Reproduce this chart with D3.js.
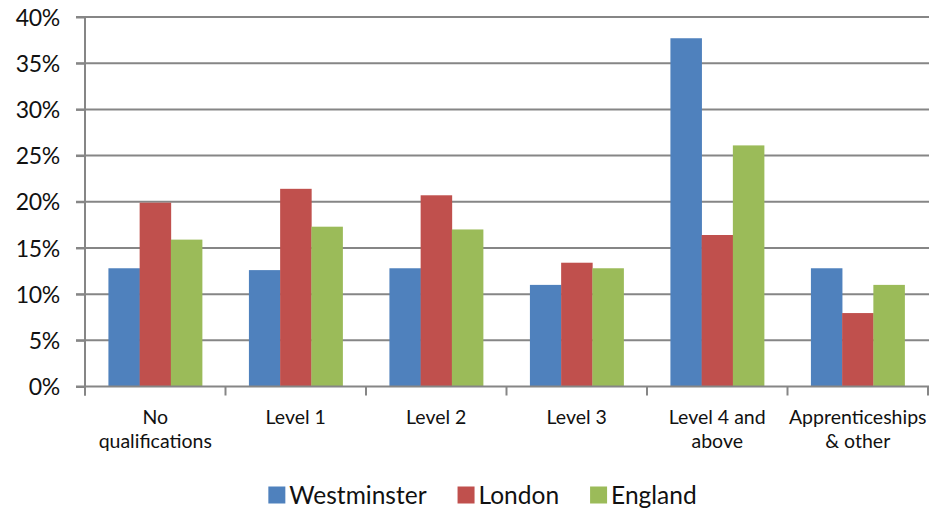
<!DOCTYPE html>
<html><head><meta charset="utf-8">
<script src="https://cdn.jsdelivr.net/npm/d3@7"></script>
<style>body{margin:0;background:#fff}svg{display:block}text{font-family:Lato,"Open Sans",sans-serif;fill:#111}</style>
</head><body><svg id="c" width="929" height="508"></svg>
<script>
const categories = [["No","qualifications"],["Level 1"],["Level 2"],["Level 3"],["Level 4 and","above"],["Apprenticeships","& other"]];
const seriesNames = ["Westminster","London","England"];
const westminster = [12.8,12.6,12.8,11.0,37.7,12.8];
const london = [19.9,21.4,20.7,13.4,16.4,7.95];
const england = [15.9,17.3,17.0,12.8,26.1,11.0];
const colors = ["#4F81BD","#C0504D","#9BBB59"];
const yTicks = [0,5,10,15,20,25,30,35,40];

const svg = d3.select("#c");
const L = 85, R = 928, T = 17, B = 386.5;
const x = d3.scaleBand().domain(d3.range(categories.length)).range([L,R]).paddingInner(0).paddingOuter(0);
const y = d3.scaleLinear().domain([0,40]).range([B,T]);
const gapFrac = 1.5;
const barW = x.bandwidth()/(3+gapFrac);
const values = [westminster,london,england];

// gridlines
svg.append("g").selectAll("line").data(yTicks.filter(d=>d>0)).join("line")
  .attr("x1",76).attr("x2",R+1).attr("y1",d=>y(d)).attr("y2",d=>y(d))
  .attr("stroke","#868686").attr("stroke-width",2);

// bars
values.forEach((vals,si)=>{
  svg.append("g").selectAll("rect").data(vals).join("rect")
    .attr("x",(d,i)=>x(i)+barW*gapFrac/2+si*barW)
    .attr("width",barW+0.3)
    .attr("y",d=>y(d)).attr("height",d=>B-y(d))
    .attr("fill",colors[si]);
});

// y axis
const yAxis = d3.axisLeft(y).tickValues(yTicks).tickFormat(d=>d+"%").tickSize(9).tickPadding(16);
const ga = svg.append("g").attr("transform",`translate(${L},0)`).call(yAxis);
ga.select(".domain").remove();
ga.selectAll(".tick line").attr("stroke","#868686").attr("stroke-width",2);
ga.selectAll(".tick text").attr("font-size",23).attr("font-family","Lato").attr("fill","#111").attr("dy","0.35em").attr("letter-spacing","-0.3");
svg.append("line").attr("x1",L).attr("x2",L).attr("y1",T).attr("y2",B+9).attr("stroke","#868686").attr("stroke-width",2);

// x axis
svg.append("line").attr("x1",76).attr("x2",R+1).attr("y1",B).attr("y2",B).attr("stroke","#868686").attr("stroke-width",2);
const bounds = d3.range(categories.length+1).map(i=> i<categories.length ? x(i) : R);
svg.append("g").selectAll("line").data(bounds).join("line")
  .attr("x1",d=>d).attr("x2",d=>d).attr("y1",B).attr("y2",B+9)
  .attr("stroke","#868686").attr("stroke-width",2);

const lab = svg.append("g").selectAll("text").data(categories).join("text")
  .attr("x",(d,i)=>x(i)+x.bandwidth()/2).attr("y",424)
  .attr("text-anchor","middle").attr("font-size",19.5);
lab.selectAll("tspan").data(d=>d).join("tspan")
  .attr("x",function(){return this.parentNode.getAttribute("x");})
  .attr("dy",(d,i)=>i===0?0:24).text(d=>d);

// legend
const lg = svg.append("g");
const sw = 17, fs = 24.5;
let cx = 0;
seriesNames.forEach((n,i)=>{
  const g = lg.append("g");
  g.append("rect").attr("width",sw).attr("height",sw).attr("y",-sw/2).attr("fill",colors[i]);
  const t = g.append("text").attr("x",sw+4).attr("y",0).attr("dy","0.35em").attr("font-size",fs).text(n);
  const w = sw+4+t.node().getComputedTextLength();
  g.attr("transform",`translate(${cx},0)`);
  cx += w + 31;
});
const totalW = cx - 31;
lg.attr("transform",`translate(${482.5 - totalW/2},495)`);
</script></body></html>
